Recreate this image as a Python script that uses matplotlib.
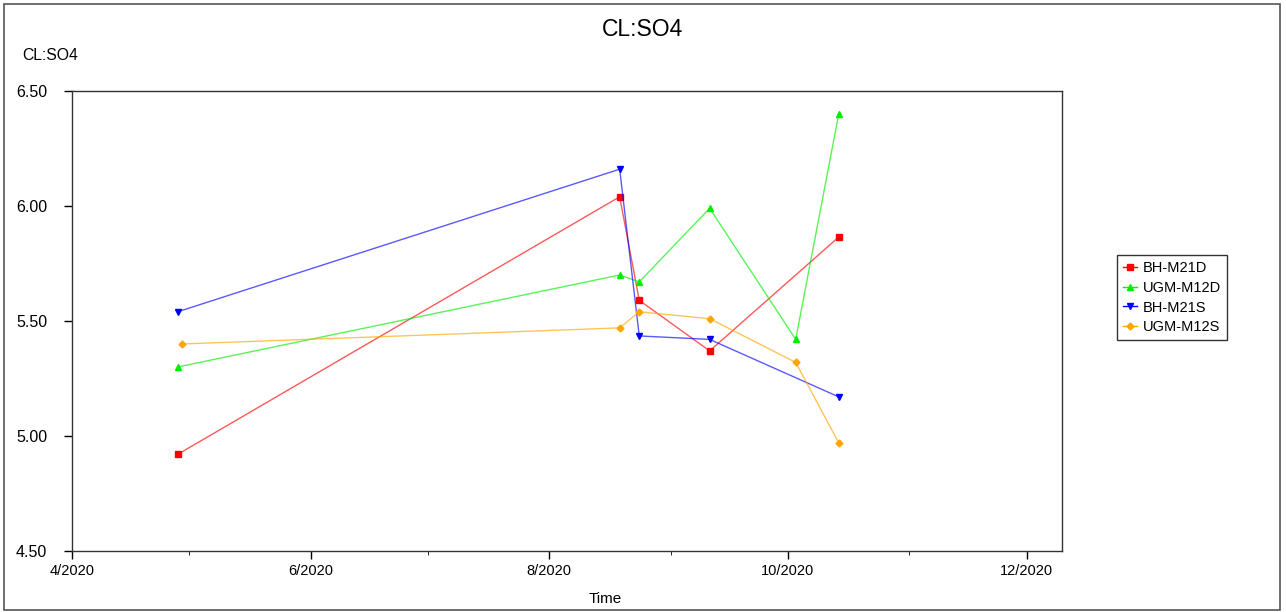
import matplotlib.pyplot as plt
import matplotlib.dates as mdates
import numpy as np
import pandas as pd
from matplotlib.patches import Rectangle

plt.rcParams['font.family'] = ['Liberation Sans', 'DejaVu Sans']

# data
bh_m21d_dates = ['2020-04-28', '2020-08-19', '2020-08-24', '2020-09-11', '2020-10-14']
bh_m21d_vals = [4.92, 6.04, 5.59, 5.37, 5.865]

ugm_m12d_dates = ['2020-04-28', '2020-08-19', '2020-08-24', '2020-09-11', '2020-10-03', '2020-10-14']
ugm_m12d_vals = [5.30, 5.70, 5.67, 5.99, 5.42, 6.40]

bh_m21s_dates = ['2020-04-28', '2020-08-19', '2020-08-24', '2020-09-11', '2020-10-14']
bh_m21s_vals = [5.54, 6.16, 5.435, 5.42, 5.17]

ugm_m12s_dates = ['2020-04-29', '2020-08-19', '2020-08-24', '2020-09-11', '2020-10-03', '2020-10-14']
ugm_m12s_vals = [5.40, 5.47, 5.54, 5.51, 5.32, 4.97]

series = [
    ('BH-M21D', bh_m21d_dates, bh_m21d_vals, '#ff0000', 's', 4.5),
    ('UGM-M12D', ugm_m12d_dates, ugm_m12d_vals, '#00ee00', '^', 5),
    ('BH-M21S', bh_m21s_dates, bh_m21s_vals, '#0000ff', 'v', 5),
    ('UGM-M12S', ugm_m12s_dates, ugm_m12s_vals, '#ffa500', 'D', 3.5),
]

fig = plt.figure(figsize=(12.86, 6.12), dpi=100)
ax = fig.add_axes([0.056, 0.0997, 0.7696, 0.7516])

for name, d, v, c, m, ms in series:
    ax.plot(pd.to_datetime(d), v, color=c, lw=1, alpha=0.65)
    ax.plot(pd.to_datetime(d), v, ls='none', marker=m, ms=ms, color=c, mec=c)

# legend handles with lines + markers
handles = [plt.Line2D([], [], color=c, lw=1, marker=m, ms=ms, label=n)
           for n, d, v, c, m, ms in series]

ax.set_xlim(pd.Timestamp('2020-04-01'), pd.Timestamp('2020-12-10'))
ax.set_ylim(4.5, 6.5)
ax.set_yticks([4.5, 5.0, 5.5, 6.0, 6.5])
ax.yaxis.set_major_formatter(plt.FormatStrFormatter('%.2f'))
ax.xaxis.set_major_locator(mdates.MonthLocator(bymonth=[4, 6, 8, 10, 12]))
ax.xaxis.set_minor_locator(mdates.MonthLocator(bymonth=[5, 7, 9, 11]))
ax.xaxis.set_major_formatter(mdates.DateFormatter('%-m/%Y'))
ax.tick_params(axis='both', which='major', direction='out', length=6, width=1, labelsize=10.5)
ax.tick_params(axis='y', labelsize=11.5, pad=12)
ax.tick_params(axis='x', which='minor', direction='out', length=3)
for s in ax.spines.values():
    s.set_color('#333333')
    s.set_linewidth(1)

fig.suptitle('CL:SO4', x=0.4995, y=1 - 30 / 612, va='center', fontsize=16.5)
fig.text(0.017, 1 - 56 / 612, 'CL:SO4', fontsize=11.3, va='center')
fig.text(0.4705, 1 - 599 / 612, 'Time', fontsize=11, ha='center', va='center')

leg = fig.legend(handles=handles, loc='upper left', bbox_to_anchor=(0.8686, 0.5833),
                 frameon=True, fancybox=False, fontsize=10.5, handlelength=1.0,
                 handletextpad=0.35, borderpad=0.4, labelspacing=0.4, borderaxespad=0)
leg.get_frame().set_edgecolor('black')
leg.get_frame().set_linewidth(1)

fig.patches.append(Rectangle((0.003, 0.003), 0.992, 0.99, transform=fig.transFigure,
                             fill=False, edgecolor='#555555', lw=1.2))

fig.savefig('out.png', dpi=100)
